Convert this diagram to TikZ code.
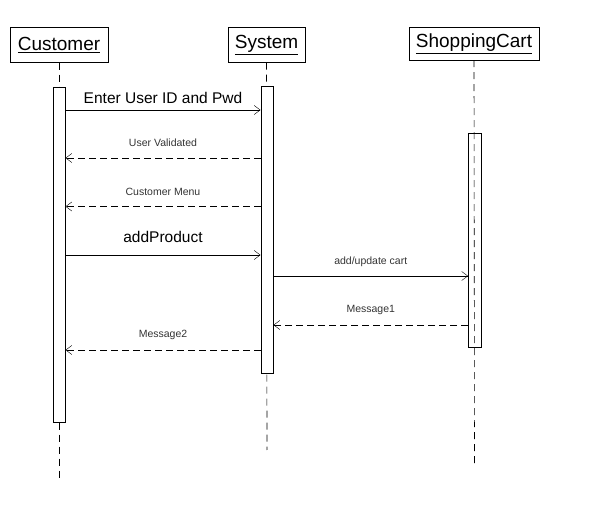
\documentclass[tikz,border=0pt]{standalone}
\usepackage{fontspec}
\setmainfont{Liberation Sans}
\usetikzlibrary{arrows.meta,positioning}
\tikzset{
  objbox/.style={draw, thin, minimum height=35pt, inner sep=0pt, font=\fontsize{19}{22}\selectfont},
  actbox/.style={draw, thin, fill=white, minimum width=12.5pt, inner sep=0pt},
  life/.style={line width=0.6pt, dash pattern=on 7pt off 5pt},
  call/.style={thin, -{Straight Barb[length=6pt,width=9pt]}},
  reply/.style={call, dash pattern=on 7pt off 4pt},
  biglbl/.style={font=\fontsize{15.5}{18}\selectfont, anchor=base},
  smalllbl/.style={font=\fontsize{10.5}{12}\selectfont, text=black!80, anchor=base}
}
\begin{document}
\begin{tikzpicture}[x=1pt, y=-1pt]
  \useasboundingbox (0,0) rectangle (614,513);
  % objects
  \node[objbox, minimum width=98pt] (cust) at (59,45) {\underline{Customer}};
  \node[objbox, minimum width=77pt] (sys) at (266.5,45) {\underline{System}};
  \node[objbox, minimum width=130pt, minimum height=33pt] (cart) at (474,43.5) {\underline{ShoppingCart}};
  % lifelines
  \coordinate (custend) at (59,480);
  \coordinate (sysend) at (267,450);
  \coordinate (cartend) at (474.5,465);
  \draw[life] (cust.south) -- (custend);
  \draw[life] (sys.south) -- (sysend);
  \draw[life] (cart.south) -- (cartend);
  % activations
  \node[actbox, minimum height=335pt] (custact) at (59,254.5) {};
  \node[actbox, minimum height=287pt] (sysact) at (267,229.5) {};
  \node[actbox, fill=none, minimum height=214pt] (cartact) at (474.5,240) {};
  % message rows
  \coordinate (r1) at (0,110);
  \coordinate (r2) at (0,158);
  \coordinate (r3) at (0,206.5);
  \coordinate (r4) at (0,255);
  \coordinate (r5) at (0,276);
  \coordinate (r6) at (0,325);
  \coordinate (r7) at (0,350);
  % messages
  \draw[call] (custact.east |- r1) -- (sysact.west |- r1)
    node[biglbl, midway, yshift=6pt] {Enter User ID and Pwd};
  \draw[reply] (sysact.west |- r2) -- (custact.east |- r2)
    node[smalllbl, midway, yshift=11pt] {User Validated};
  \draw[reply] (sysact.west |- r3) -- (custact.east |- r3)
    node[smalllbl, midway, yshift=11pt] {Customer Menu};
  \draw[call] (custact.east |- r4) -- (sysact.west |- r4)
    node[biglbl, midway, yshift=12pt] {addProduct};
  \draw[call] (sysact.east |- r5) -- (cartact.west |- r5)
    node[smalllbl, midway, yshift=11pt] {add/update cart};
  \draw[reply] (cartact.west |- r6) -- (sysact.east |- r6)
    node[smalllbl, midway, yshift=12pt] {Message1};
  \draw[reply] (sysact.west |- r7) -- (custact.east |- r7)
    node[smalllbl, midway, yshift=12pt] {Message2};
\end{tikzpicture}
\end{document}
